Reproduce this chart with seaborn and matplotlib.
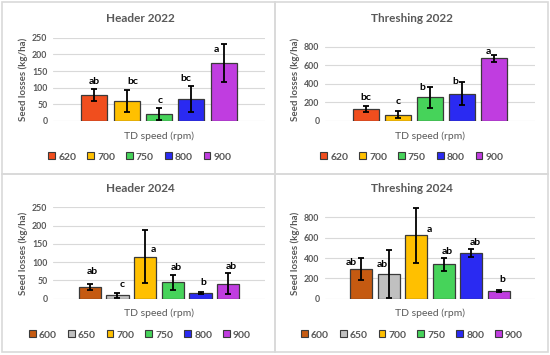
import matplotlib
matplotlib.use("Agg")
import matplotlib.pyplot as plt
import seaborn as sns
import pandas as pd
from matplotlib.patches import Patch, Rectangle

# ---- data ----
speeds_2022 = ["620", "700", "750", "800", "900"]
speeds_2024 = ["600", "650", "700", "750", "800", "900"]

header_2022 = [77, 60, 20, 65, 174]
header_2022_err = [18, 32, 18, 39, 58]
header_2022_lbl = ["ab", "bc", "c", "bc", "a"]

thresh_2022 = [133, 70, 254, 292, 677]
thresh_2022_err = [34, 36, 110, 124, 36]
thresh_2022_lbl = ["bc", "c", "b", "b", "a"]

header_2024 = [32, 9, 115, 45, 16, 41]
header_2024_err = [7, 7, 72, 21, 3, 28]
header_2024_lbl = ["ab", "c", "a", "ab", "b", "ab"]

thresh_2024 = [292, 243, 623, 337, 447, 80]
thresh_2024_err = [105, 232, 268, 68, 40, 10]
thresh_2024_lbl = ["ab", "ab", "a", "ab", "ab", "b"]

# where the significance letters sit (x offset in categories, y in data units)
lbl_pos = {
    "Header 2022": ([0, 0.2, 0.02, -0.18, -0.24], [118, 118, 63, 128, 215]),
    "Threshing 2022": ([0, 0, -0.24, -0.22, -0.17], [251, 208, 362, 430, 756]),
    "Header 2024": ([0.08, 0.17, 0.29, 0.14, 0.11, 0.11], [74, 38, 134, 84, 43, 88]),
    "Threshing 2024": ([-0.36, -0.25, 0.46, 0.14, 0.14, 0.13], [357, 341, 679, 466, 554, 193]),
}

colors = {
    "600": "#C55A11", "620": "#F04E1E", "650": "#C0C0C0", "700": "#FFC000",
    "750": "#46D35A", "800": "#2A2AF2", "900": "#C03DE0",
}

GRAY = "#595959"
FONT = ["Lato", "DejaVu Sans"]

W, H = 550, 355

panels = [
    # title, cats, vals, errs, letters, ymax, yticks, axes px box (l, r, top, bottom),
    # panel centre x, legend y, xlabel y, title y
    ("Header 2022", speeds_2022, header_2022, header_2022_err, header_2022_lbl,
     250, range(0, 251, 50), (53, 265, 37.7, 121), 140, 157, 136, 19),
    ("Threshing 2022", speeds_2022, thresh_2022, thresh_2022_err, thresh_2022_lbl,
     900, range(0, 801, 200), (325, 535, 37.7, 121), 412, 157, 136, 19),
    ("Header 2024", speeds_2024, header_2024, header_2024_err, header_2024_lbl,
     250, range(0, 251, 50), (53, 265, 207.3, 298.7), 140, 335, 313, 188),
    ("Threshing 2024", speeds_2024, thresh_2024, thresh_2024_err, thresh_2024_lbl,
     900, range(0, 801, 200), (325, 535, 207.3, 298.7), 412, 335, 313, 188),
]

sns.set_style("white")
plt.rcParams["font.family"] = FONT

fig = plt.figure(figsize=(W / 100, H / 100), dpi=100)

# panel frames
frame_kw = dict(fill=False, edgecolor="#D9D9D9", linewidth=1.2, transform=fig.transFigure)
for (x0, y0, x1, y1) in [(2, 2, 275, 174), (275, 2, 548, 174), (2, 174, 275, 352), (275, 174, 548, 352)]:
    fig.add_artist(Rectangle((x0 / W, 1 - y1 / H), (x1 - x0) / W, (y1 - y0) / H, **frame_kw))

for title, cats, vals, errs, letters, ymax, yticks, box, pcx, leg_y, xl_y, ttl_y in panels:
    l, r, t, b = box
    ax = fig.add_axes([l / W, 1 - b / H, (r - l) / W, (b - t) / H])
    df = pd.DataFrame({"speed": cats, "loss": vals})
    sns.barplot(data=df, x="speed", y="loss", hue="speed", palette=colors,
                order=cats, hue_order=cats, dodge=False, legend=False,
                saturation=1, width=0.8, edgecolor="#3A3A3A", linewidth=0.9, ax=ax)
    xs = list(range(len(cats)))
    ax.errorbar(xs, vals, yerr=errs, fmt="none", ecolor="black",
                elinewidth=1.3, capsize=2.5, capthick=1.3, zorder=5)
    dx, ly = lbl_pos[title]
    for i, txt in enumerate(letters):
        ax.text(i + dx[i], ly[i], txt, ha="center", va="center",
                fontsize=7.5, fontweight="bold", color="black")

    n = len(cats)
    half = 3.27 if n == 5 else 3.83
    ax.set_xlim((n - 1) / 2 - half, (n - 1) / 2 + half)
    ax.set_ylim(0, ymax)
    ax.set_yticks(list(yticks))
    ax.set_xticks([])
    ax.set_xlabel("")
    ax.set_ylabel("Seed losses (kg/ha)", fontsize=7, fontweight="bold",
                  color=GRAY, labelpad=3)
    ax.tick_params(axis="y", labelsize=6.3, labelcolor=GRAY, length=0, pad=4)
    for lab in ax.get_yticklabels():
        lab.set_fontweight("bold")
    ax.grid(axis="y", color="#D9D9D9", linewidth=0.8)
    ax.set_axisbelow(True)
    sns.despine(ax=ax, left=True, bottom=True)

    cx = pcx / W
    fig.text(cx, 1 - ttl_y / H, title, ha="center", va="center",
             fontsize=8.5, fontweight="bold", color=GRAY)
    fig.text((l + r) / 2 / W, 1 - xl_y / H, "TD speed (rpm)", ha="center", va="center",
             fontsize=7.5, color=GRAY)

    handles = [Patch(facecolor=colors[c], edgecolor="#3A3A3A", linewidth=0.8) for c in cats]
    fig.legend(handles, cats, loc="center", bbox_to_anchor=(cx, 1 - leg_y / H),
               ncol=n, frameon=False, handlelength=0.65, handleheight=0.65,
               handletextpad=0.3, columnspacing=1.05, labelcolor=GRAY,
               prop={"family": FONT, "weight": "bold", "size": 7.5})

fig.savefig("out.png", dpi=100, facecolor="white")
